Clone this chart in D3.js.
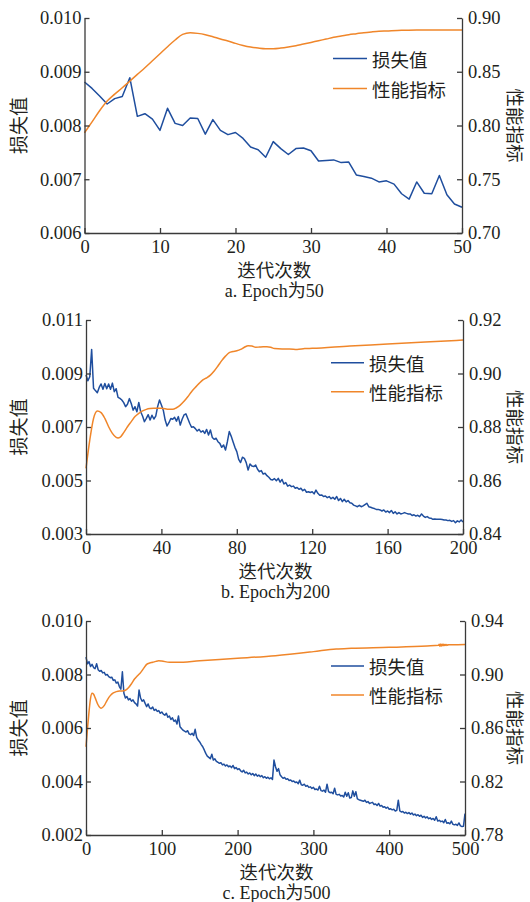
<!DOCTYPE html>
<html><head><meta charset="utf-8">
<script src="https://cdn.jsdelivr.net/npm/d3@7"></script>
<style>body{margin:0;background:#fff}svg{display:block}</style></head>
<body><svg id="c" width="530" height="902"></svg>
<script>
// ---------- data ----------
const seriesNames = ["损失值", "性能指标"];
const xTitle = "迭代次数";
const captions = ["a. Epoch为50", "b. Epoch为200", "c. Epoch为500"];

// Panel a (Epoch 50)
const xTicksA = [0, 10, 20, 30, 40, 50];
const lossTicksA = [0.006, 0.007, 0.008, 0.009, 0.010];
const perfTicksA = [0.70, 0.75, 0.80, 0.85, 0.90];
const lossStepA = 1;
const lossA = [0.00881,0.00869,0.00855,0.00840,0.00850,0.00854,0.00889,0.00817,0.00822,0.00812,0.00791,0.00832,0.00804,0.00800,0.00814,0.00813,0.00784,0.00811,0.00791,0.00783,0.00787,0.00776,0.00760,0.00755,0.00741,0.00770,0.00757,0.00746,0.00757,0.00758,0.00753,0.00734,0.00735,0.00736,0.00731,0.00732,0.00708,0.00705,0.00702,0.00695,0.00697,0.00691,0.00673,0.00663,0.00695,0.00674,0.00673,0.00707,0.00671,0.00654,0.00648];
const perfXA = [0,1,2,3,4,5,6,7,8,9,10,11,12,13,14,15,16,17,18,19,20,21,22,23,24,25,26,27,28,29,30,31,32,33,34,35,36,37,38,39,40,42,44,46,48,50];
const perfA = [0.7932,0.8034,0.8137,0.8227,0.8292,0.8351,0.8413,0.8475,0.8537,0.8602,0.8668,0.8733,0.8795,0.8848,0.8863,0.8857,0.8845,0.8826,0.8804,0.8786,0.8764,0.8745,0.8730,0.8720,0.8714,0.8714,0.8720,0.8730,0.8742,0.8758,0.8773,0.8789,0.8804,0.8820,0.8832,0.8845,0.8854,0.8863,0.8870,0.8876,0.8879,0.8885,0.8888,0.8889,0.8889,0.8889];

// Panel b (Epoch 200)
const xTicksB = [0, 40, 80, 120, 160, 200];
const lossTicksB = [0.003, 0.005, 0.007, 0.009, 0.011];
const perfTicksB = [0.84, 0.86, 0.88, 0.90, 0.92];
const lossStepB = 1;
const lossB = [0.00894,0.00873,0.00888,0.00990,0.00845,0.00836,0.00828,0.00848,0.00861,0.00841,0.00863,0.00843,0.00861,0.00841,0.00864,0.00832,0.00843,0.00811,0.00807,0.00801,0.00791,0.00776,0.00785,0.00806,0.00788,0.00763,0.00776,0.00757,0.00792,0.00757,0.00741,0.00720,0.00732,0.00746,0.00726,0.00744,0.00730,0.00741,0.00776,0.00801,0.00782,0.00763,0.00726,0.00704,0.00716,0.00732,0.00729,0.00736,0.00722,0.00739,0.00707,0.00729,0.00745,0.00749,0.00732,0.00714,0.00699,0.00701,0.00694,0.00685,0.00691,0.00681,0.00686,0.00676,0.00691,0.00670,0.00689,0.00661,0.00654,0.00658,0.00645,0.00639,0.00624,0.00633,0.00614,0.00645,0.00683,0.00666,0.00645,0.00624,0.00608,0.00579,0.00567,0.00587,0.00583,0.00567,0.00539,0.00562,0.00554,0.00552,0.00558,0.00542,0.00533,0.00537,0.00524,0.00527,0.00518,0.00512,0.00504,0.00502,0.00507,0.00499,0.00508,0.00494,0.00504,0.00487,0.00492,0.00479,0.00483,0.00477,0.00479,0.00471,0.00474,0.00467,0.00471,0.00462,0.00467,0.00456,0.00458,0.00455,0.00458,0.00450,0.00464,0.00452,0.00445,0.00446,0.00440,0.00442,0.00436,0.00440,0.00432,0.00437,0.00430,0.00440,0.00425,0.00433,0.00421,0.00430,0.00420,0.00425,0.00417,0.00415,0.00408,0.00405,0.00402,0.00407,0.00402,0.00405,0.00410,0.00415,0.00402,0.00400,0.00397,0.00395,0.00392,0.00392,0.00390,0.00386,0.00390,0.00382,0.00386,0.00380,0.00388,0.00377,0.00383,0.00375,0.00380,0.00375,0.00377,0.00380,0.00377,0.00375,0.00375,0.00369,0.00372,0.00367,0.00370,0.00365,0.00375,0.00367,0.00362,0.00365,0.00360,0.00359,0.00355,0.00356,0.00355,0.00355,0.00355,0.00354,0.00352,0.00352,0.00350,0.00351,0.00347,0.00350,0.00342,0.00349,0.00345,0.00352,0.00345];
const perfXB = [0,2,4,6,8,10,12,14,16,17,18,20,22,24,26,28,30,32,34,36,40,44,46,48,50,52,54,56,58,60,62,64,66,68,70,72,74,76,78,80,82,84,86,88,90,92,94,96,98,100,104,108,112,116,120,140,160,180,200];
const perfB = [0.8645,0.8751,0.8832,0.8860,0.8854,0.8832,0.8801,0.8776,0.8761,0.8759,0.8761,0.8779,0.8801,0.8820,0.8839,0.8851,0.8860,0.8866,0.8869,0.8870,0.8870,0.8866,0.8866,0.8872,0.8882,0.8896,0.8913,0.8932,0.8948,0.8963,0.8976,0.8984,0.8994,0.9009,0.9028,0.9048,0.9065,0.9078,0.9082,0.9085,0.9090,0.9098,0.9104,0.9103,0.9098,0.9099,0.9100,0.9100,0.9098,0.9093,0.9092,0.9092,0.9090,0.9093,0.9094,0.9103,0.9110,0.9118,0.9125];

// Panel c (Epoch 500)
const xTicksC = [0, 100, 200, 300, 400, 500];
const lossTicksC = [0.002, 0.004, 0.006, 0.008, 0.010];
const perfTicksC = [0.78, 0.82, 0.86, 0.90, 0.94];
const lossStepC = 2;
const lossC = [0.00865,0.00840,0.00848,0.00830,0.00838,0.00826,0.00822,0.00840,0.00818,0.00812,0.00815,0.00806,0.00808,0.00798,0.00800,0.00792,0.00788,0.00790,0.00778,0.00780,0.00768,0.00772,0.00755,0.00745,0.00810,
0.00730,0.00712,0.00718,0.00705,0.00710,0.00700,0.00705,0.00695,0.00690,0.00682,0.00742,0.00712,0.00700,0.00705,0.00692,0.00680,0.00690,0.00675,0.00672,0.00678,0.00666,0.00670,0.00662,0.00665,0.00655,
0.00660,0.00652,0.00648,0.00655,0.00640,0.00645,0.00632,0.00638,0.00625,0.00630,0.00615,0.00645,0.00605,0.00598,0.00592,0.00588,0.00585,0.00590,0.00578,0.00575,0.00580,0.00572,0.00595,0.00565,0.00555,
0.00548,0.00538,0.00530,0.00518,0.00505,0.00495,0.00490,0.00485,0.00502,0.00480,0.00485,0.00475,0.00472,0.00468,0.00470,0.00462,0.00465,0.00458,0.00462,0.00455,0.00458,0.00452,0.00460,0.00448,0.00452,
0.00445,0.00448,0.00440,0.00436,0.00442,0.00432,0.00435,0.00428,0.00432,0.00425,0.00430,0.00422,0.00428,0.00420,0.00424,0.00418,0.00422,0.00414,0.00418,0.00412,0.00416,0.00410,0.00414,0.00408,0.00480,
0.00455,0.00438,0.00448,0.00425,0.00418,0.00412,0.00415,0.00408,0.00410,0.00404,0.00406,0.00400,0.00402,0.00396,0.00398,0.00392,0.00405,0.00388,0.00386,0.00390,0.00382,0.00385,0.00378,0.00380,0.00374,
0.00378,0.00370,0.00372,0.00368,0.00382,0.00366,0.00364,0.00368,0.00360,0.00390,0.00362,0.00358,0.00360,0.00354,0.00375,0.00352,0.00350,0.00352,0.00346,0.00348,0.00342,0.00360,0.00345,0.00358,0.00338,
0.00340,0.00365,0.00345,0.00362,0.00335,0.00332,0.00330,0.00328,0.00326,0.00330,0.00322,0.00325,0.00318,0.00320,0.00322,0.00314,0.00316,0.00310,0.00318,0.00308,0.00310,0.00304,0.00306,0.00300,0.00304,
0.00296,0.00298,0.00294,0.00296,0.00290,0.00292,0.00330,0.00290,0.00286,0.00288,0.00282,0.00285,0.00280,0.00284,0.00278,0.00282,0.00275,0.00278,0.00272,0.00276,0.00270,0.00274,0.00266,0.00270,0.00264,
0.00268,0.00261,0.00264,0.00258,0.00262,0.00255,0.00268,0.00252,0.00255,0.00250,0.00252,0.00246,0.00258,0.00244,0.00246,0.00242,0.00252,0.00240,0.00238,0.00240,0.00236,0.00245,0.00234,0.00232,0.00233,0.00280];
const perfXC = [0,2,4,6,8,10,12,16,20,24,28,32,36,40,44,48,52,56,60,64,68,72,76,80,84,88,92,96,100,110,120,150,200,250,300,330,350,400,450,465,466,467,468,469,470,471,472,473,474,475,476,477,478,480,490,500];
const perfC = [0.846,0.8597,0.8722,0.8822,0.8859,0.8852,0.8827,0.8772,0.8747,0.8767,0.8809,0.8842,0.8862,0.8872,0.8877,0.8877,0.8882,0.8901,0.8931,0.8966,0.8991,0.9014,0.9046,0.9076,0.9086,0.9091,0.9098,0.9103,0.9101,0.9091,0.9091,0.9103,0.9121,0.9141,0.9171,0.9191,0.9196,0.9203,0.9213,0.9218,0.9226,0.9211,0.9228,0.9213,0.9227,0.9215,0.9226,0.9216,0.9225,0.9217,0.9224,0.9219,0.9223,0.9222,0.9223,0.9225];

// ---------- drawing ----------
const svg = d3.select("#c");
const BLUE = "#1f4e9e", ORANGE = "#f0862a", INK = "#231f20", AXIS = "#3a3a3a";
const SERIF = "'Liberation Serif','Times New Roman',serif";
const CJK = "'Noto Sans CJK SC','Noto Sans',sans-serif";
const CAPF = "'Liberation Serif','Noto Sans CJK SC',serif";

const panels = [
  {box:{top:18,bottom:233,left:84.5,right:462}, xMax:50, xTicks:xTicksA, lT:lossTicksA, rT:perfTicksA, fL:".3f", fR:".2f",
   loss:lossA, step:lossStepA, px:perfXA, py:perfA, cap:captions[0], leg:{x1:333,x2:367,y:58.5,dy:30}},
  {box:{top:320,bottom:534,left:86,right:463}, xMax:200, xTicks:xTicksB, lT:lossTicksB, rT:perfTicksB, fL:".3f", fR:".2f",
   loss:lossB, step:lossStepB, px:perfXB, py:perfB, cap:captions[1], leg:{x1:331,x2:364,y:362.7,dy:29}},
  {box:{top:621,bottom:835,left:86,right:465}, xMax:500, xTicks:xTicksC, lT:lossTicksC, rT:perfTicksC, fL:".3f", fR:".2f",
   loss:lossC, step:lossStepC, px:perfXC, py:perfC, cap:captions[2], leg:{x1:331,x2:364,y:666,dy:29}}
];

function drawPanel(p){
  const b = p.box;
  const g = svg.append("g");
  const x = d3.scaleLinear().domain([0, p.xMax]).range([b.left, b.right]);
  const yL = d3.scaleLinear().domain(d3.extent(p.lT)).range([b.bottom, b.top]);
  const yR = d3.scaleLinear().domain(d3.extent(p.rT)).range([b.bottom, b.top]);

  // data lines
  const lossLine = d3.line().x((d,i) => x(i * p.step)).y(d => yL(d));
  g.append("path").datum(p.loss).attr("d", lossLine)
    .attr("fill","none").attr("stroke",BLUE).attr("stroke-width",1.5).attr("stroke-linejoin","round");
  const perfLine = d3.line().x((d,i) => x(p.px[i])).y(d => yR(d)).curve(d3.curveMonotoneX);
  g.append("path").datum(p.py).attr("d", perfLine)
    .attr("fill","none").attr("stroke",ORANGE).attr("stroke-width",1.5).attr("stroke-linejoin","round");

  // axes
  const axes = [
    g.append("g").attr("transform",`translate(0,${b.bottom})`)
      .call(d3.axisBottom(x).tickValues(p.xTicks).tickFormat(d3.format("d")).tickSizeInner(-5).tickSizeOuter(0).tickPadding(7)),
    g.append("g").attr("transform",`translate(${b.left},0)`)
      .call(d3.axisLeft(yL).tickValues(p.lT).tickFormat(d3.format(p.fL)).tickSizeInner(-5).tickSizeOuter(0).tickPadding(3)),
    g.append("g").attr("transform",`translate(${b.right},0)`)
      .call(d3.axisRight(yR).tickValues(p.rT).tickFormat(d3.format(p.fR)).tickSizeInner(-5).tickSizeOuter(0).tickPadding(6))
  ];
  axes.forEach(a => a.attr("font-family", SERIF).attr("font-size", 18.5));
  g.selectAll(".domain, .tick line").attr("stroke",AXIS).attr("stroke-width",1.3);
  g.selectAll(".tick text").style("font-family",SERIF).style("font-size","18.5px").attr("fill",INK);

  // axis titles
  const midY = (b.top + b.bottom) / 2, midX = (b.left + b.right) / 2;
  g.append("text").attr("transform",`translate(17,${midY}) rotate(-90)`)
    .attr("text-anchor","middle").attr("dominant-baseline","central")
    .style("font-family",CJK).style("font-size","19px").attr("fill",INK).text(seriesNames[0]);
  g.append("text").attr("transform",`translate(515.5,${midY}) rotate(90)`)
    .attr("text-anchor","middle").attr("dominant-baseline","central")
    .style("font-family",CJK).style("font-size","18.5px").attr("fill",INK).text(seriesNames[1]);
  g.append("text").attr("x",midX + 1).attr("y",b.bottom + 36)
    .attr("text-anchor","middle").attr("dominant-baseline","central")
    .style("font-family",CJK).style("font-size","18.5px").attr("fill",INK).text(xTitle);
  g.append("text").attr("x",midX + 1).attr("y",b.bottom + 58)
    .attr("text-anchor","middle").attr("dominant-baseline","central")
    .style("font-family",CAPF).style("font-size","18px").attr("fill",INK).text(p.cap);

  // legend
  const cols = [BLUE, ORANGE];
  seriesNames.forEach((name, i) => {
    const ly = p.leg.y + i * p.leg.dy;
    g.append("line").attr("x1",p.leg.x1).attr("x2",p.leg.x2).attr("y1",ly).attr("y2",ly)
      .attr("stroke",cols[i]).attr("stroke-width",1.5);
    g.append("text").attr("x",p.leg.x2 + 5).attr("y",ly).attr("dominant-baseline","central")
      .style("font-family",CJK).style("font-size","18.5px").attr("fill",INK).text(name);
  });
}
panels.forEach(drawPanel);
</script>
</body></html>
